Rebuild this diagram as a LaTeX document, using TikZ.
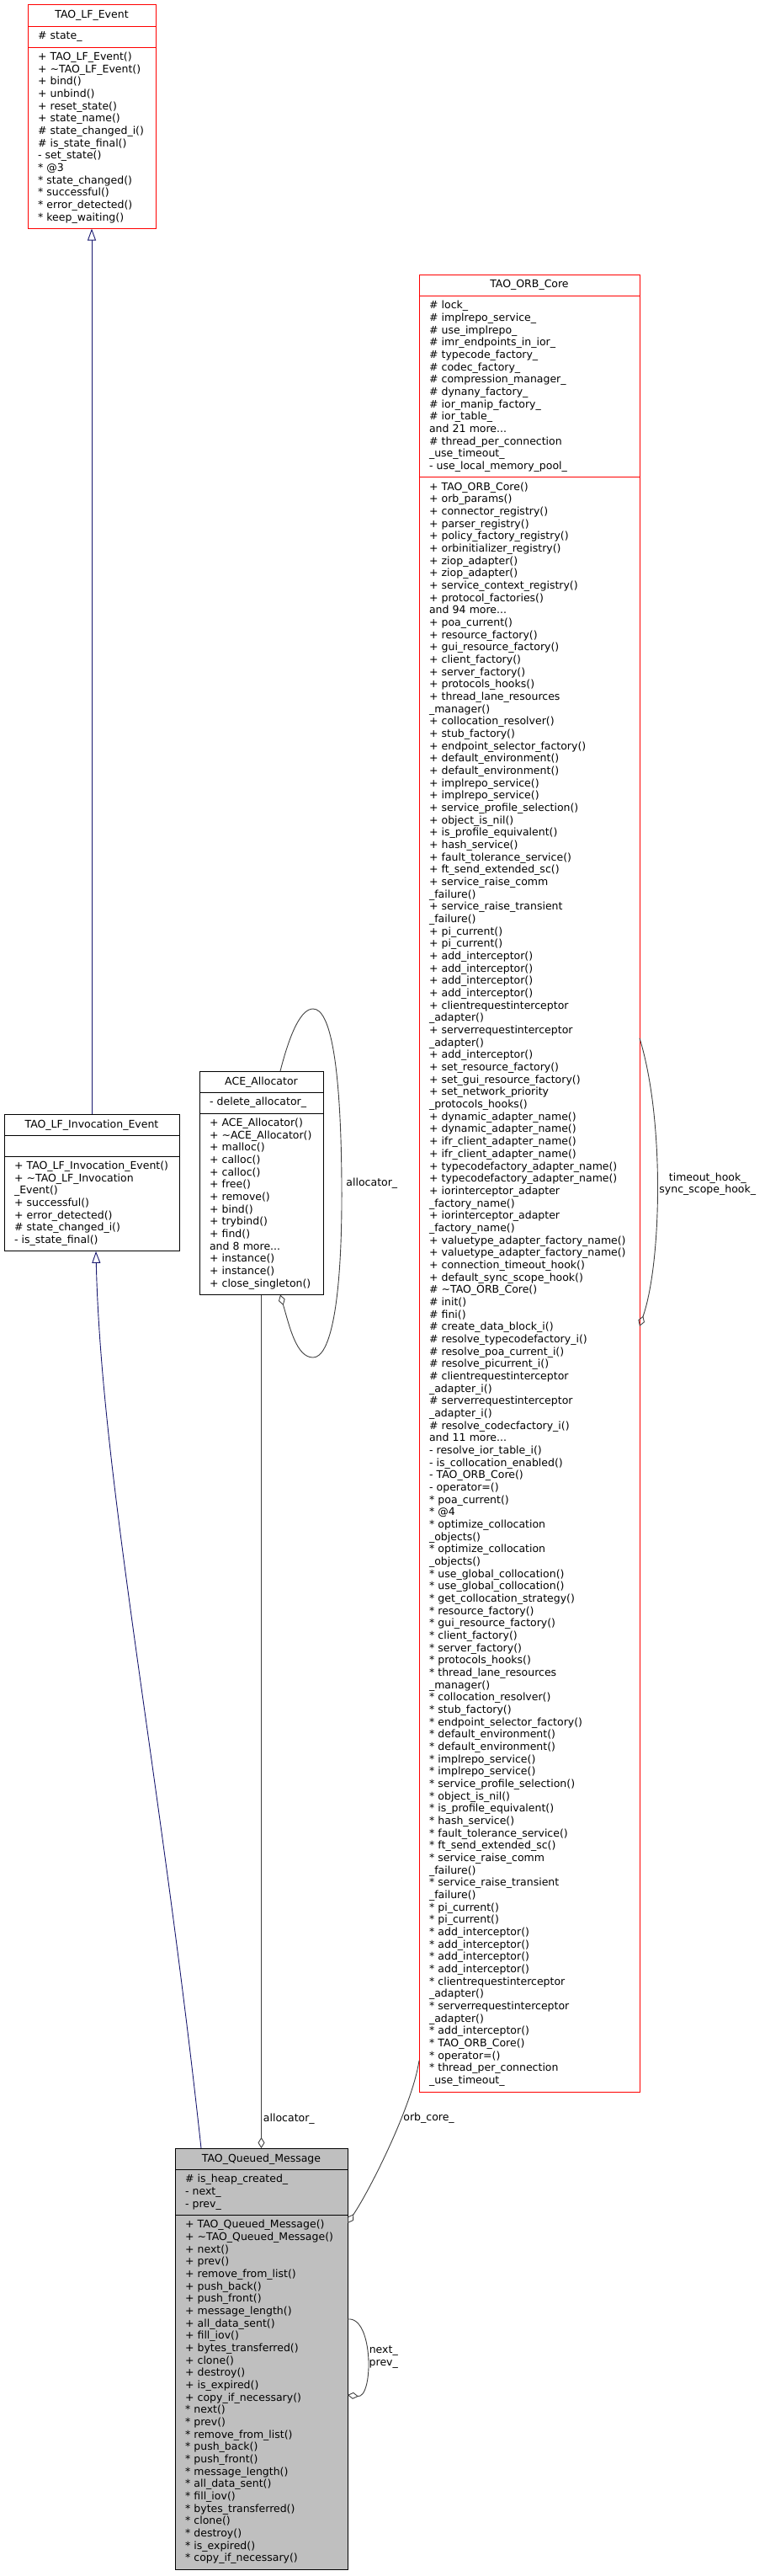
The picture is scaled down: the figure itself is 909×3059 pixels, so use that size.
\documentclass[tikz,border=0pt]{standalone}
\usepackage{fontspec}
\setmainfont{DejaVu Sans}
\usetikzlibrary{arrows.meta}

\definecolor{edgeblue}{HTML}{191970}
\definecolor{edgegray}{HTML}{404040}
\definecolor{msggray}{HTML}{BFBFBF}
\hyphenpenalty=10000

\begin{document}
\begin{tikzpicture}[x=1pt, y=-1pt,
  every node/.style={font=\fontsize{12.5}{14.67}\selectfont},
  classname/.style={draw, line width=1pt, outer sep=0pt, anchor=north west, inner sep=0pt, minimum height=25.5pt, minimum width=#1},
  members/.style={draw, line width=1pt, outer sep=0pt, anchor=north west, inner xsep=12pt, inner ysep=5pt, align=left,
    text width=#1-24pt, execute at begin node=\strut, execute at end node=\strut},
  inherit/.style={draw=edgeblue, line width=0.9pt, -{Triangle[open, length=14pt, width=10pt]}},
  usage/.style={draw=edgegray, line width=0.9pt, -{Diamond[open, length=13pt, width=8pt]}},
  edgelabel/.style={inner sep=2pt, align=center}]

  \path[use as bounding box, fill=white] (0,0) rectangle (909,3059);

  % TAO_LF_Event
  \node[classname=152pt, draw=red] (lfevent) at (33,6) {TAO\_LF\_Event};
  \node[members=152pt, draw=red] (lfevent-attr) at (lfevent.south west) {\#~state\_};
  \node[members=152pt, draw=red] (lfevent-ops) at (lfevent-attr.south west) {+~TAO\_LF\_Event()\\
    +~\textasciitilde TAO\_LF\_Event()\\ +~bind()\\ +~unbind()\\ +~reset\_state()\\ +~state\_name()\\
    \#~state\_changed\_i()\\ \#~is\_state\_final()\\ -~set\_state()\\ {*}~@3\\ {*}~state\_changed()\\
    {*}~successful()\\ {*}~error\_detected()\\ {*}~keep\_waiting()};

  % TAO_LF_Invocation_Event
  \node[classname=208pt] (lfinv) at (5,1323) {TAO\_LF\_Invocation\_Event};
  \node[members=208pt] (lfinv-attr) at (lfinv.south west) {};
  \node[members=208pt] (lfinv-ops) at (lfinv-attr.south west) {+~TAO\_LF\_Invocation\_Event()\\
    +~\textasciitilde TAO\_LF\_Invocation\\ \_Event()\\ +~successful()\\ +~error\_detected()\\
    \#~state\_changed\_i()\\ -~is\_state\_final()};

  % ACE_Allocator
  \node[classname=147pt] (alloc) at (237,1272) {ACE\_Allocator};
  \node[members=147pt] (alloc-attr) at (alloc.south west) {-~delete\_allocator\_};
  \node[members=147pt] (alloc-ops) at (alloc-attr.south west) {+~ACE\_Allocator()\\
    +~\textasciitilde ACE\_Allocator()\\ +~malloc()\\ +~calloc()\\ +~calloc()\\ +~free()\\
    +~remove()\\ +~bind()\\ +~trybind()\\ +~find()\\ and~8~more...\\ +~instance()\\
    +~instance()\\ +~close\_singleton()};

  % TAO_ORB_Core
  \node[classname=262pt, draw=red] (orbcore) at (498,326) {TAO\_ORB\_Core};
  \node[members=262pt, draw=red] (orbcore-attr) at (orbcore.south west) {\#~lock\_\\
    \#~implrepo\_service\_\\ \#~use\_implrepo\_\\ \#~imr\_endpoints\_in\_ior\_\\
    \#~typecode\_factory\_\\ \#~codec\_factory\_\\ \#~compression\_manager\_\\
    \#~dynany\_factory\_\\ \#~ior\_manip\_factory\_\\ \#~ior\_table\_\\ and~21~more...\\
    \#~thread\_per\_connection\\ \_use\_timeout\_\\ -~use\_local\_memory\_pool\_};
  \node[members=262pt, draw=red] (orbcore-ops) at (orbcore-attr.south west) {+~TAO\_ORB\_Core()\\
    +~orb\_params()\\ +~connector\_registry()\\ +~parser\_registry()\\
    +~policy\_factory\_registry()\\ +~orbinitializer\_registry()\\ +~ziop\_adapter()\\
    +~ziop\_adapter()\\ +~service\_context\_registry()\\ +~protocol\_factories()\\
    and~94~more...\\ +~poa\_current()\\ +~resource\_factory()\\ +~gui\_resource\_factory()\\
    +~client\_factory()\\ +~server\_factory()\\ +~protocols\_hooks()\\
    +~thread\_lane\_resources\\ \_manager()\\ +~collocation\_resolver()\\ +~stub\_factory()\\
    +~endpoint\_selector\_factory()\\ +~default\_environment()\\ +~default\_environment()\\
    +~implrepo\_service()\\ +~implrepo\_service()\\ +~service\_profile\_selection()\\
    +~object\_is\_nil()\\ +~is\_profile\_equivalent()\\ +~hash\_service()\\
    +~fault\_tolerance\_service()\\ +~ft\_send\_extended\_sc()\\ +~service\_raise\_comm\\
    \_failure()\\ +~service\_raise\_transient\\ \_failure()\\ +~pi\_current()\\
    +~pi\_current()\\ +~add\_interceptor()\\ +~add\_interceptor()\\ +~add\_interceptor()\\
    +~add\_interceptor()\\ +~clientrequestinterceptor\\ \_adapter()\\
    +~serverrequestinterceptor\\ \_adapter()\\ +~add\_interceptor()\\
    +~set\_resource\_factory()\\ +~set\_gui\_resource\_factory()\\ +~set\_network\_priority\\
    \_protocols\_hooks()\\ +~dynamic\_adapter\_name()\\ +~dynamic\_adapter\_name()\\
    +~ifr\_client\_adapter\_name()\\ +~ifr\_client\_adapter\_name()\\
    +~typecodefactory\_adapter\_name()\\ +~typecodefactory\_adapter\_name()\\
    +~iorinterceptor\_adapter\\ \_factory\_name()\\ +~iorinterceptor\_adapter\\
    \_factory\_name()\\ +~valuetype\_adapter\_factory\_name()\\
    +~valuetype\_adapter\_factory\_name()\\ +~connection\_timeout\_hook()\\
    +~default\_sync\_scope\_hook()\\ \#~\textasciitilde TAO\_ORB\_Core()\\ \#~init()\\
    \#~fini()\\ \#~create\_data\_block\_i()\\ \#~resolve\_typecodefactory\_i()\\
    \#~resolve\_poa\_current\_i()\\ \#~resolve\_picurrent\_i()\\ \#~clientrequestinterceptor\\
    \_adapter\_i()\\ \#~serverrequestinterceptor\\ \_adapter\_i()\\
    \#~resolve\_codecfactory\_i()\\ and~11~more...\\ -~resolve\_ior\_table\_i()\\
    -~is\_collocation\_enabled()\\ -~TAO\_ORB\_Core()\\ -~operator=()\\ {*}~poa\_current()\\
    {*}~@4\\ {*}~optimize\_collocation\\ \_objects()\\ {*}~optimize\_collocation\\ \_objects()\\
    {*}~use\_global\_collocation()\\ {*}~use\_global\_collocation()\\
    {*}~get\_collocation\_strategy()\\ {*}~resource\_factory()\\ {*}~gui\_resource\_factory()\\
    {*}~client\_factory()\\ {*}~server\_factory()\\ {*}~protocols\_hooks()\\
    {*}~thread\_lane\_resources\\ \_manager()\\ {*}~collocation\_resolver()\\ {*}~stub\_factory()\\
    {*}~endpoint\_selector\_factory()\\ {*}~default\_environment()\\ {*}~default\_environment()\\
    {*}~implrepo\_service()\\ {*}~implrepo\_service()\\ {*}~service\_profile\_selection()\\
    {*}~object\_is\_nil()\\ {*}~is\_profile\_equivalent()\\ {*}~hash\_service()\\
    {*}~fault\_tolerance\_service()\\ {*}~ft\_send\_extended\_sc()\\ {*}~service\_raise\_comm\\
    \_failure()\\ {*}~service\_raise\_transient\\ \_failure()\\ {*}~pi\_current()\\
    {*}~pi\_current()\\ {*}~add\_interceptor()\\ {*}~add\_interceptor()\\ {*}~add\_interceptor()\\
    {*}~add\_interceptor()\\ {*}~clientrequestinterceptor\\ \_adapter()\\
    {*}~serverrequestinterceptor\\ \_adapter()\\ {*}~add\_interceptor()\\ {*}~TAO\_ORB\_Core()\\
    {*}~operator=()\\ {*}~thread\_per\_connection\\ \_use\_timeout\_};

  % TAO_Queued_Message (the documented class, grey)
  \node[classname=205pt, fill=msggray] (queued) at (208,2551) {TAO\_Queued\_Message};
  \node[members=205pt, fill=msggray] (queued-attr) at (queued.south west) {\#~is\_heap\_created\_\\
    -~next\_\\ -~prev\_};
  \node[members=205pt, fill=msggray] (queued-ops) at (queued-attr.south west) {+~TAO\_Queued\_Message()\\
    +~\textasciitilde TAO\_Queued\_Message()\\ +~next()\\ +~prev()\\ +~remove\_from\_list()\\
    +~push\_back()\\ +~push\_front()\\ +~message\_length()\\ +~all\_data\_sent()\\
    +~fill\_iov()\\ +~bytes\_transferred()\\ +~clone()\\ +~destroy()\\ +~is\_expired()\\
    +~copy\_if\_necessary()\\ {*}~next()\\ {*}~prev()\\ {*}~remove\_from\_list()\\ {*}~push\_back()\\
    {*}~push\_front()\\ {*}~message\_length()\\ {*}~all\_data\_sent()\\ {*}~fill\_iov()\\
    {*}~bytes\_transferred()\\ {*}~clone()\\ {*}~destroy()\\ {*}~is\_expired()\\
    {*}~copy\_if\_necessary()};

  % inheritance
  \draw[inherit] (lfinv.north) -- (lfevent-ops.south);
  \draw[inherit] ([xshift=-71.5pt]queued.north) .. controls (190,2100) and (120,1750) .. ([xshift=5pt]lfinv-ops.south);

  % usage
  \draw[usage] (alloc-ops.south) -- (queued.north) node[edgelabel, pos=0.966, anchor=west] {allocator\_};
  \draw[usage] ([xshift=22.5pt]alloc.north) .. controls (345,1225) and (358,1198) .. (372,1198)
    .. controls (392,1198) and (405,1260) .. (406,1405) node[edgelabel, anchor=west, xshift=3pt] {allocator\_}
    .. controls (407,1550) and (392,1612) .. (372,1612)
    .. controls (352,1612) and (344,1575) .. ([xshift=22.5pt]alloc-ops.south);
  \draw[usage] ([yshift=37pt]orbcore-ops.south west) .. controls (490,2500) and (440,2600) ..
    ([yshift=-9.5pt]queued-ops.north east) node[edgelabel, pos=0.35, anchor=west] {orb\_core\_};
  \draw[usage] ([yshift=-666pt]orbcore-ops.north east) .. controls (790,1330) and (786,1500) ..
    ([yshift=-1008pt]orbcore-ops.north east) node[edgelabel, pos=0.5, anchor=west, yshift=6pt] {timeout\_hook\_\\sync\_scope\_hook\_};
  \draw[usage] ([yshift=-123.5pt]queued-ops.north east) .. controls (444,2750) and (444,2848) ..
    ([yshift=-213.5pt]queued-ops.north east) node[edgelabel, pos=0.5, anchor=west] {next\_\\prev\_};
\end{tikzpicture}
\end{document}
